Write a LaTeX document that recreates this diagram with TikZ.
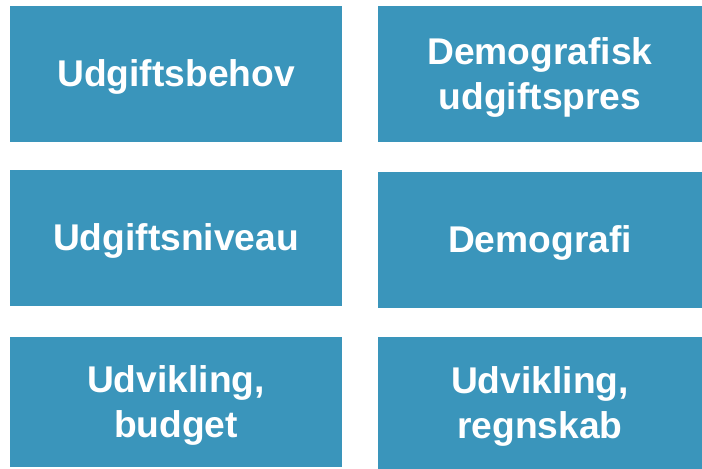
\documentclass[tikz,border=0pt]{standalone}
\usepackage{fontspec}
\setmainfont{Liberation Sans}
\usepackage{tikz}

\definecolor{tileblue}{HTML}{3A95BB}

\tikzset{
	tile/.style={
		shape=rectangle,
		fill=tileblue,
		draw=none,
		inner sep=0pt,
		text=white,
		align=center,
		text height=26bp,
		text depth=0pt,
		font=\fontsize{37.2bp}{45bp}\selectfont\bfseries},
	twolines/.style={text height=71bp}
}

\begin{document}
\begin{tikzpicture}[x=1bp,y=-1bp]
	\useasboundingbox (0,0) rectangle (702,469);
	% left column
	\node[tile, minimum width=332bp, minimum height=136bp] (behov) at (176,74) {Udgiftsbehov};
	\node[tile, minimum width=332bp, minimum height=136bp] (niveau) at (176,238) {Udgiftsniveau};
	\node[tile, twolines, minimum width=332bp, minimum height=130bp] (budget) at (176,402) {Udvikling,\\budget};
	
	% right column
	\node[tile, twolines, minimum width=324bp, minimum height=136bp] (pres) at (540,74) {Demografisk\\udgiftspres};
	\node[tile, minimum width=324bp, minimum height=136bp] (demografi) at (540,240) {Demografi};
	\node[tile, twolines, minimum width=324bp, minimum height=132bp] (regnskab) at (540,403) {Udvikling,\\regnskab};
\end{tikzpicture}
\end{document}
